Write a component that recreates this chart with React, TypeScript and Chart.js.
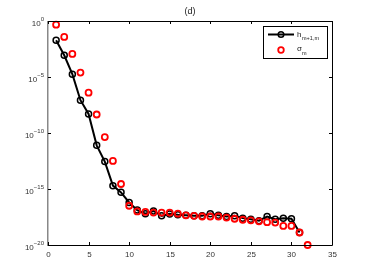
import React, { useEffect, useRef } from "react";
import { Chart, registerables } from "chart.js";
Chart.register(...registerables);

const hIndex = [1,2,3,4,5,6,7,8,9,10,11,12,13,14,15,16,17,18,19,20,21,22,23,24,25,26,27,28,29,30,31];
const hValues = [1.9e-2,8.7e-4,1.8e-5,8.5e-8,5.0e-9,7.9e-12,2.8e-13,2.0e-15,5.0e-16,6.3e-17,1.3e-17,6.3e-18,1.1e-17,4.0e-18,6.0e-18,5.0e-18,4.5e-18,4.0e-18,4.0e-18,6.3e-18,4.5e-18,3.5e-18,4.0e-18,2.5e-18,2.0e-18,1.5e-18,3.5e-18,2.0e-18,2.5e-18,2.2e-18,1.3e-19];
const sIndex = [1,2,3,4,5,6,7,8,9,10,11,12,13,14,15,16,17,18,19,20,21,22,23,24,25,26,27,28,29,30,31,32];
const sValues = [4.7e-1,3.8e-2,1.15e-3,2.5e-5,4.0e-7,4.5e-9,4.3e-11,3.2e-13,2.8e-15,3.2e-17,1.0e-17,8.9e-18,7.9e-18,7.9e-18,7.9e-18,6.3e-18,4.5e-18,4.0e-18,3.5e-18,3.5e-18,3.5e-18,2.8e-18,2.2e-18,1.8e-18,1.6e-18,1.3e-18,1.1e-18,1.0e-18,5.0e-19,5.0e-19,1.3e-19,1.0e-20];
const xTicks = [0,5,10,15,20,25,30,35];
const yTickExps = [0,-5,-10,-15,-20];
const titleText = "(d)";

const FONT = "'Liberation Sans', Arial, sans-serif";

const decor = {
  id: "decor",
  afterDraw(chart: any) {
    const ctx = chart.ctx;
    const a = chart.chartArea;
    const xs = chart.scales.x;
    const ys = chart.scales.y;
    ctx.save();
    ctx.strokeStyle = "#000";
    ctx.lineWidth = 1;
    ctx.beginPath();
    ctx.moveTo(a.left, a.top + 0.5);
    ctx.lineTo(a.right + 0.5, a.top + 0.5);
    ctx.lineTo(a.right + 0.5, a.bottom + 0.5);
    ctx.lineTo(a.left, a.bottom + 0.5);
    ctx.stroke();
    ctx.strokeStyle = "#888";
    ctx.lineWidth = 1.5;
    ctx.beginPath();
    ctx.moveTo(a.left - 0.25, a.top);
    ctx.lineTo(a.left - 0.25, a.bottom + 1);
    ctx.stroke();
    ctx.strokeStyle = "#000";
    ctx.lineWidth = 1;
    ctx.fillStyle = "#333";
    ctx.font = "8px " + FONT;
    ctx.textAlign = "center";
    ctx.textBaseline = "top";
    for (const t of xTicks) {
      const px = Math.round(xs.getPixelForValue(t)) + 0.5;
      ctx.beginPath();
      ctx.moveTo(px, a.bottom);
      ctx.lineTo(px, a.bottom - 3);
      ctx.moveTo(px, a.top);
      ctx.lineTo(px, a.top + 3);
      ctx.stroke();
      ctx.fillText(String(t), px, a.bottom + 6);
    }
    for (const e of yTickExps) {
      const py = Math.round(ys.getPixelForValue(Math.pow(10, e))) + 0.5;
      ctx.beginPath();
      ctx.moveTo(a.left, py);
      ctx.lineTo(a.left + 3, py);
      ctx.moveTo(a.right, py);
      ctx.lineTo(a.right - 3, py);
      ctx.stroke();
      const expStr = e === 0 ? "0" : "\u2212" + String(-e);
      ctx.font = "6px " + FONT;
      const ew = ctx.measureText(expStr).width;
      ctx.font = "8px " + FONT;
      const bw = ctx.measureText("10").width;
      const right = a.left - 4;
      ctx.textAlign = "left";
      ctx.textBaseline = "alphabetic";
      ctx.fillText("10", right - ew - bw, py + 4);
      ctx.font = "6px " + FONT;
      ctx.fillText(expStr, right - ew, py - 1);
    }
    ctx.fillStyle = "#222";
    ctx.font = "9px " + FONT;
    ctx.textAlign = "center";
    ctx.textBaseline = "alphabetic";
    ctx.fillText(titleText, (a.left + a.right) / 2, a.top - 7);
    const lx = a.right - 69, ly = a.top + 5, lw = 64, lh = 32;
    ctx.fillStyle = "#fff";
    ctx.fillRect(lx, ly, lw, lh);
    ctx.strokeStyle = "#000";
    ctx.lineWidth = 1;
    ctx.strokeRect(lx + 0.5, ly + 0.5, lw, lh);
    const r1 = ly + 8.5;
    ctx.lineWidth = 2;
    ctx.beginPath();
    ctx.moveTo(lx + 5, r1);
    ctx.lineTo(lx + 31, r1);
    ctx.stroke();
    ctx.lineWidth = 1.5;
    ctx.beginPath();
    ctx.arc(lx + 18, r1, 2.8, 0, Math.PI * 2);
    ctx.stroke();
    const r2 = ly + 24;
    ctx.strokeStyle = "#ff0000";
    ctx.lineWidth = 1.8;
    ctx.beginPath();
    ctx.arc(lx + 18, r2, 2.8, 0, Math.PI * 2);
    ctx.stroke();
    ctx.fillStyle = "#222";
    ctx.textAlign = "left";
    ctx.font = "8px " + FONT;
    ctx.fillText("h", lx + 34, r1 + 2);
    ctx.font = "5.5px " + FONT;
    ctx.fillText("m+1,m", lx + 39, r1 + 5);
    ctx.font = "8px " + FONT;
    ctx.fillText("\u03c3", lx + 34, r2 + 1);
    ctx.font = "5.5px " + FONT;
    ctx.fillText("m", lx + 39, r2 + 5);
    ctx.restore();
  },
};

export default function App() {
  const ref = useRef<HTMLCanvasElement>(null);
  useEffect(() => {
    const chart = new Chart(ref.current!, {
      type: "line",
      data: {
        datasets: [
          {
            label: "h",
            data: hIndex.map((x, i) => ({ x, y: hValues[i] })),
            borderColor: "#000",
            borderWidth: 2,
            pointRadius: 3,
            pointBorderWidth: 1.5,
            pointBorderColor: "#000",
            pointBackgroundColor: "rgba(0,0,0,0)",
            tension: 0,
            order: 1,
            clip: false as any,
          },
          {
            label: "sigma",
            data: sIndex.map((x, i) => ({ x, y: sValues[i] })),
            showLine: false,
            borderColor: "#ff0000",
            pointRadius: 3,
            pointBorderWidth: 1.8,
            pointBorderColor: "#ff0000",
            pointBackgroundColor: "rgba(0,0,0,0)",
            order: 0,
            clip: false as any,
          },
        ],
      },
      options: {
        animation: false,
        responsive: false,
        maintainAspectRatio: false,
        layout: { padding: { left: 48, right: 36, top: 21, bottom: 31 } },
        plugins: { legend: { display: false }, tooltip: { enabled: false }, title: { display: false } },
        scales: {
          x: { type: "linear", display: false, min: 0, max: 35 },
          y: { type: "logarithmic", display: false, min: 1e-20, max: 1 },
        },
      },
      plugins: [decor],
    });
    return () => chart.destroy();
  }, []);
  return (
    <div style={{ position: "fixed", left: 0, top: 0, width: 368, height: 276, background: "#fff" }}>
      <canvas ref={ref} width={368} height={276} style={{ width: 368, height: 276, display: "block" }} />
    </div>
  );
}
